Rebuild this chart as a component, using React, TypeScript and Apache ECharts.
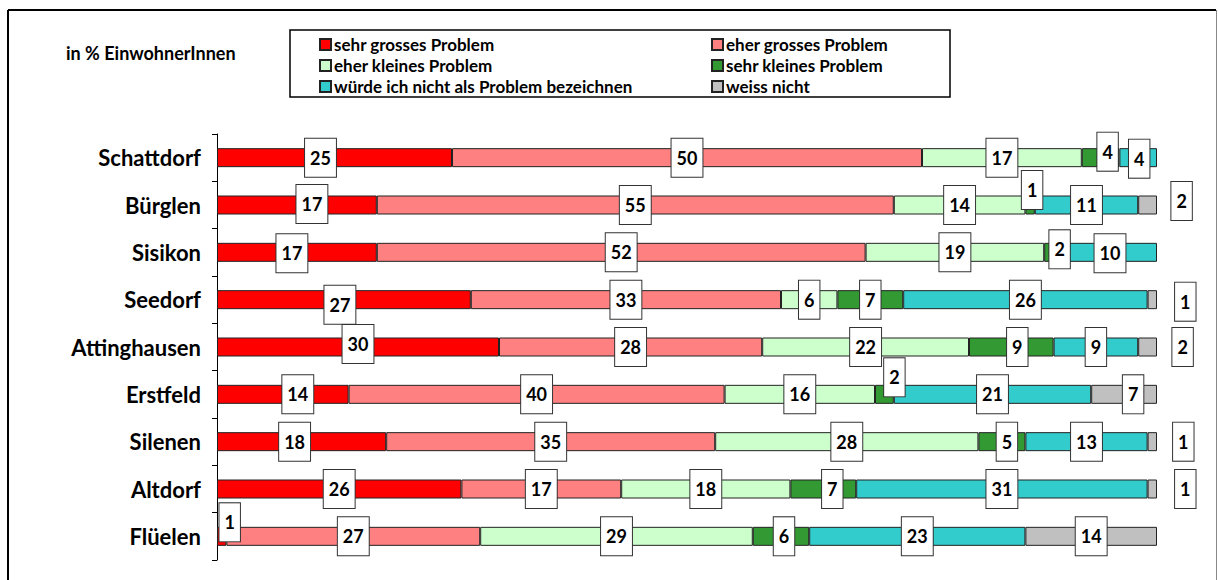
import React, { useEffect, useRef } from "react";
import * as echarts from "echarts";

const categories = ["Schattdorf", "Bürglen", "Sisikon", "Seedorf", "Attinghausen", "Erstfeld", "Silenen", "Altdorf", "Flüelen"];
const seriesNames = [
  "sehr grosses Problem",
  "eher grosses Problem",
  "eher kleines Problem",
  "sehr kleines Problem",
  "würde ich nicht als Problem bezeichnen",
  "weiss nicht",
];
const sehrGross = [25, 17, 17, 27, 30, 14, 18, 26, 1];
const eherGross = [50, 55, 52, 33, 28, 40, 35, 17, 27];
const eherKlein = [17, 14, 19, 6, 22, 16, 28, 18, 29];
const sehrKlein = [4, 1, 2, 7, 9, 2, 5, 7, 6];
const nichtProblem = [4, 11, 10, 26, 9, 21, 13, 31, 23];
const weissNicht = [0, 2, 0, 1, 2, 7, 1, 1, 14];
const values = [sehrGross, eherGross, eherKlein, sehrKlein, nichtProblem, weissNicht];
const colors = ["#FF0000", "#FF8080", "#CCFFCC", "#339933", "#33CCCC", "#C0C0C0"];

// label offsets [dx, dy] keyed by "categoryIndex|seriesIndex"
const labelOffsets: Record<string, [number, number]> = {
  "0|0": [-14, 0], "0|3": [7, -6], "0|4": [1, 1],
  "1|0": [15, -1], "1|3": [2, -15], "1|5": [34, -4],
  "2|0": [-5, 1], "2|3": [6, -3], "2|4": [0, 1],
  "3|0": [-4, 5], "3|5": [33, 2],
  "4|0": [0, -3], "4|3": [6, 0], "4|5": [35, 0],
  "5|0": [15, 0], "5|3": [10, -17], "5|5": [9, 0],
  "6|0": [-7, 0], "6|3": [5, 0], "6|5": [31, 0],
  "7|3": [9, 0], "7|5": [33, 0],
  "8|0": [8, -14], "8|3": [3, 0],
};

const FONT = "Lato";

export default function App() {
  const ref = useRef<HTMLDivElement>(null);
  useEffect(() => {
    if (!ref.current) return;
    const chart = echarts.init(ref.current, null, { renderer: "svg" });
    const series = seriesNames.map((name, si) => ({
      name,
      type: "bar",
      stack: "total",
      barWidth: 19,
      itemStyle: { color: colors[si], borderColor: "#222", borderWidth: 1 },
      label: {
        show: true,
        position: "inside",
        color: "#000",
        fontFamily: FONT,
        fontWeight: "bold",
        fontSize: 18,
        lineHeight: 20,
        backgroundColor: "#fff",
        borderColor: "#333",
        borderWidth: 1,
        padding: [9, 5, 9, 5],
      },
      data: values[si].map((v, ci) => {
        if (v === 0) {
          return { value: 0, itemStyle: { borderWidth: 0 }, label: { show: false } };
        }
        const off = labelOffsets[`${ci}|${si}`];
        return off ? { value: v, label: { offset: off } } : { value: v };
      }),
    }));
    const legendText = { fontFamily: FONT, fontWeight: "bold", fontSize: 17, color: "#000", padding: [0, 0, 0, -2] };
    chart.setOption({
      animation: false,
      grid: { left: 217, right: 61, top: 134, bottom: 20, containLabel: false },
      xAxis: { type: "value", min: 0, max: 100, show: false },
      yAxis: {
        type: "category",
        data: categories,
        inverse: true,
        axisLine: { lineStyle: { color: "#000", width: 1 } },
        axisTick: { show: true, length: 5, lineStyle: { color: "#000" } },
        axisLabel: { fontFamily: FONT, fontWeight: "bold", fontSize: 22, color: "#000", margin: 16 },
      },
      legend: [
        {
          orient: "vertical",
          left: 314,
          top: 31,
          itemGap: 4,
          itemWidth: 11,
          itemHeight: 11,
          icon: "rect",
          data: [seriesNames[0], seriesNames[2], seriesNames[4]],
          textStyle: legendText,
        },
        {
          orient: "vertical",
          left: 706,
          top: 31,
          itemGap: 4,
          itemWidth: 11,
          itemHeight: 11,
          icon: "rect",
          data: [seriesNames[1], seriesNames[3], seriesNames[5]],
          textStyle: legendText,
        },
      ],
      graphic: [
        { type: "line", shape: { x1: 8, y1: 10, x2: 1216, y2: 10 }, style: { stroke: "#000", lineWidth: 2 } },
        { type: "line", shape: { x1: 8, y1: 10, x2: 8, y2: 590 }, style: { stroke: "#000", lineWidth: 2 } },
        { type: "line", shape: { x1: 1216.5, y1: 10, x2: 1216.5, y2: 590 }, style: { stroke: "#888", lineWidth: 1 } },
        {
          type: "rect",
          shape: { x: 290, y: 30, width: 660, height: 67 },
          style: { fill: "none", stroke: "#000", lineWidth: 1.5 },
          z: -1,
        },
        {
          type: "text",
          x: 66,
          y: 53,
          style: { text: "in % EinwohnerInnen", fontFamily: FONT, fontWeight: "bold", fontSize: 18, fill: "#000", verticalAlign: "middle" },
        },
      ],
      series,
    });
    return () => chart.dispose();
  }, []);
  return <div ref={ref} style={{ position: "absolute", left: 0, top: 0, width: 1218, height: 580 }} />;
}
